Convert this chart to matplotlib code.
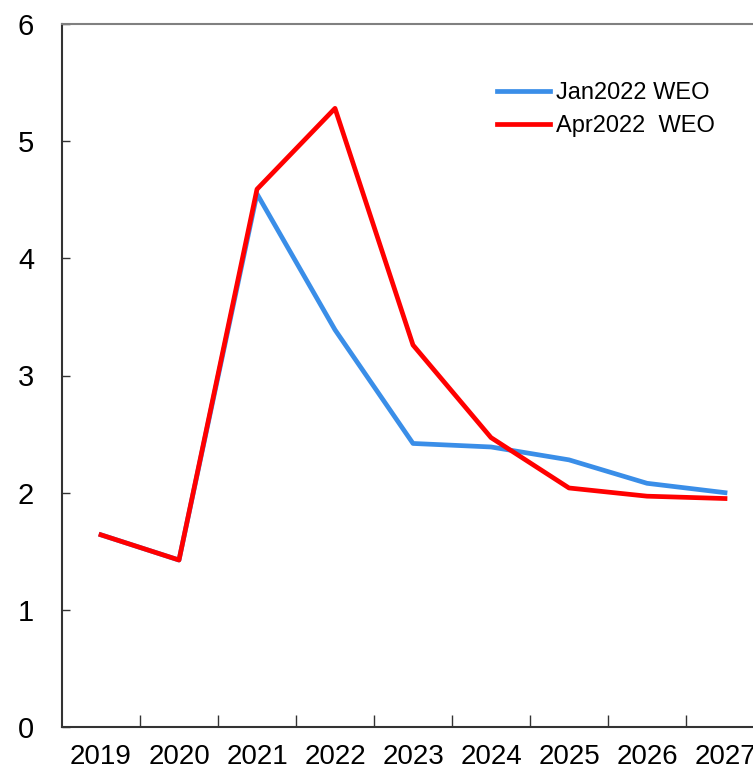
import numpy as np
import matplotlib.pyplot as plt
from matplotlib.ticker import FixedLocator

plt.rcParams['font.family'] = ['Liberation Sans', 'DejaVu Sans']

years = ['2019', '2020', '2021', '2022', '2023', '2024', '2025', '2026', '2027']
jan2022 = [1.64, 1.425, 4.55, 3.39, 2.42, 2.39, 2.28, 2.08, 2.00]
apr2022 = [1.64, 1.425, 4.59, 5.28, 3.26, 2.47, 2.04, 1.97, 1.95]

W, H = 753, 769
fig = plt.figure(figsize=(W / 100, H / 100), dpi=100)
ax = fig.add_axes([62 / W, 42 / H, 702 / W, 703 / H])

x = np.arange(len(years))
ax.plot(x, jan2022, color='#3A8EE8', lw=3.4, label='Jan2022 WEO')
ax.plot(x, apr2022, color='#FF0000', lw=3.4, label='Apr2022  WEO')

ax.set_xlim(-0.5, len(years) - 0.5)
ax.set_ylim(0, 6)

ax.set_xticks(x)
ax.set_xticklabels(years, fontsize=20)
ax.xaxis.set_minor_locator(FixedLocator(np.arange(0.5, len(years) - 0.5, 1)))
ax.tick_params(axis='x', which='major', length=0, pad=12)
ax.tick_params(axis='x', which='minor', direction='in', length=9, width=1, color='#333333')

ax.set_yticks(range(7))
ax.tick_params(axis='y', direction='in', length=6, width=1, labelsize=21, pad=20, color='#333333')

ax.spines['right'].set_visible(False)
ax.spines['top'].set_color('#808080')
ax.spines['top'].set_linewidth(1.5)
ax.spines['left'].set_color('#333333')
ax.spines['left'].set_linewidth(1.5)
ax.spines['bottom'].set_color('#333333')
ax.spines['bottom'].set_linewidth(1.5)

ax.legend(loc='upper left', bbox_to_anchor=(0.62, 0.917), frameon=False, fontsize=17,
          handlelength=2.25, handletextpad=0.25, labelspacing=0.47, borderaxespad=0,
          borderpad=0)

fig.savefig('out.png', dpi=100)
